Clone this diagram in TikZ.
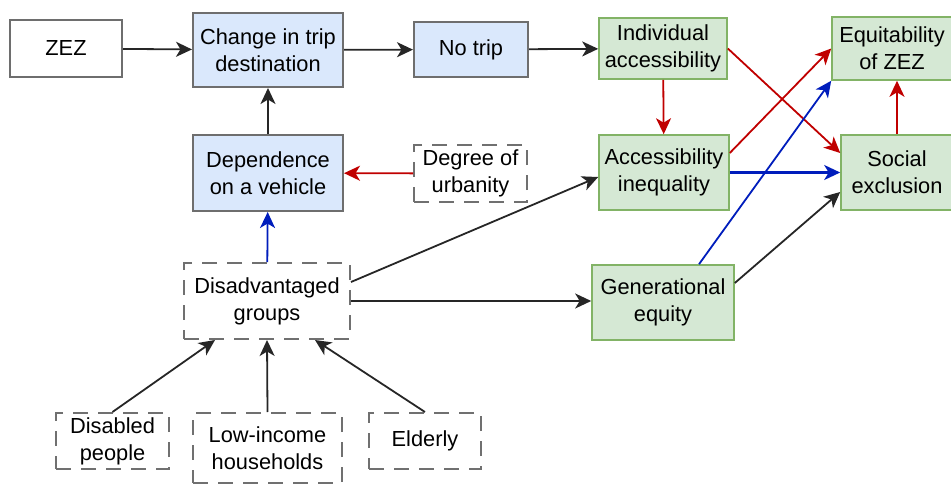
\documentclass[tikz,border=0pt]{standalone}
\usepackage{fontspec}
\setmainfont{Liberation Sans}
\usetikzlibrary{arrows.meta}
\definecolor{bluefill}{HTML}{DAE8FC}
\definecolor{greenfill}{HTML}{D5E8D4}
\definecolor{greenline}{HTML}{82B366}
\definecolor{boxgray}{HTML}{6E6E6E}
\definecolor{dashgray}{HTML}{707070}
\definecolor{redarrow}{HTML}{C00000}
\definecolor{bluearrow}{HTML}{001DBC}
\tikzset{
  base/.style={align=center, inner sep=0pt, font=\fontsize{21.8}{27}\selectfont},
  plainbox/.style={base, draw=boxgray, line width=2pt, fill=white},
  bluebox/.style={base, draw=boxgray, line width=2pt, fill=bluefill},
  greenbox/.style={base, draw=greenline, line width=1.6pt, fill=greenfill},
  dashbox/.style={base, draw=dashgray, line width=2pt, dash pattern=on 15pt off 10pt},
  conn/.style={line width=1.8pt, -{Stealth[length=16pt, width=15pt, inset=4.5pt]}},
  blk/.style={conn, draw=black!85},
  redc/.style={conn, draw=redarrow},
  bluec/.style={conn, draw=bluearrow},
}
\begin{document}
\begin{tikzpicture}[x=1pt, y=-1pt]
  \useasboundingbox (0,0) rectangle (951,487);

  % top row
  \node[plainbox, minimum width=112pt, minimum height=57pt] (zez) at (66,48.5) {ZEZ};
  \node[bluebox, minimum width=150pt, minimum height=74pt] (change) at (268,50) {Change in trip\\destination};
  \node[bluebox, minimum width=114pt, minimum height=55pt] (notrip) at (471,49.5) {No trip};
  \node[greenbox, minimum width=128pt, minimum height=61pt] (indacc) at (663,48.5) {Individual\\accessibility};
  \node[greenbox, minimum width=120pt, minimum height=63pt] (equit) at (892,48.5) {Equitability\\of ZEZ};

  % middle row
  \node[bluebox, minimum width=150pt, minimum height=76pt] (depend) at (268,173) {Dependence\\on a vehicle};
  \node[dashbox, minimum width=113pt, minimum height=57pt] (urban) at (470.5,173.5) {Degree of\\urbanity};
  \node[greenbox, minimum width=130pt, minimum height=75pt] (accineq) at (664,172.5) {Accessibility\\inequality};
  \node[greenbox, minimum width=112pt, minimum height=75pt] (social) at (897,172.5) {Social\\exclusion};

  % lower rows
  \node[dashbox, minimum width=166pt, minimum height=76pt] (disadv) at (267,301) {Disadvantaged\\groups};
  \node[greenbox, minimum width=142pt, minimum height=75pt] (generat) at (663,302.5) {Generational\\equity};
  \node[dashbox, minimum width=113pt, minimum height=56pt] (disabled) at (112.5,441) {Disabled\\people};
  \node[dashbox, minimum width=149pt, minimum height=70pt] (lowinc) at (267.5,448) {Low-income\\households};
  \node[dashbox, minimum width=112pt, minimum height=56pt] (elderly) at (425,441) {Elderly};

  % black connectors
  \draw[blk] (zez) -- (change);
  \draw[blk] (change) -- (notrip);
  \draw[blk] (notrip) -- (indacc);
  \draw[blk] (depend) -- (change);
  \draw[blk] (disadv.east) -- (generat.west |- disadv.east);
  \draw[blk] ([yshift=19pt]disadv.east) -- ([yshift=-4.5pt]accineq.west);
  \draw[blk] ([yshift=19.5pt]generat.east) -- ([yshift=-19.5pt]social.west);
  \draw[blk] (disabled.north) -- ([xshift=-52pt]disadv.south);
  \draw[blk] (lowinc.north) -- (disadv.south);
  \draw[blk] (elderly.north) -- ([xshift=48pt]disadv.south);

  % red connectors
  \draw[redc] (urban) -- (depend);
  \draw[redc] (indacc) -- (accineq);
  \draw[redc] (indacc.east) -- ([yshift=19.5pt]social.west);
  \draw[redc] ([yshift=19.5pt]accineq.east) -- (equit.west);
  \draw[redc] (social.north) -- (social.north |- equit.south);

  % blue connectors
  \draw[bluec] (disadv) -- (depend);
  \draw[bluec, line width=2.2pt] (accineq) -- (social);
  \draw[bluec] ([xshift=36pt]generat.north) -- (equit.south west);
\end{tikzpicture}
\end{document}
